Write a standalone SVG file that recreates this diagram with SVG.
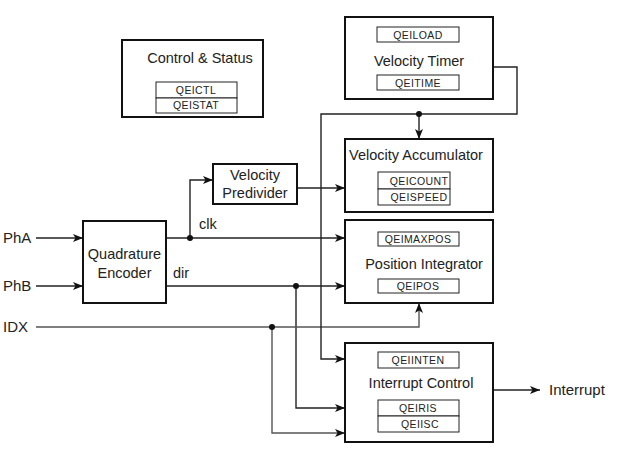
<svg xmlns="http://www.w3.org/2000/svg" width="618" height="454" viewBox="0 0 618 454">
<style>
.blk{fill:#fff;stroke:#111;stroke-width:2}
.reg{fill:#fff;stroke:#222;stroke-width:1}
.t{font-family:"Liberation Sans",Arial,sans-serif;font-size:14.5px;fill:#222}
.l{font-size:15px}
.c{text-anchor:middle}
.r{font-family:"Liberation Sans",Arial,sans-serif;font-size:10.5px;letter-spacing:0.4px;fill:#222;text-anchor:middle}
.w{fill:none;stroke:#222;stroke-width:1.4}
.g{fill:none;stroke:#555;stroke-width:1.4}
.dot{fill:#111}
</style>
<defs>
<marker id="ah" markerUnits="userSpaceOnUse" markerWidth="11" markerHeight="9" refX="10" refY="4.5" orient="auto">
<path d="M0,0.5 L10,4.5 L0,8.5 L2.5,4.5 z" fill="#111"/>
</marker>
</defs>
<rect width="618" height="454" fill="#fff"/>
<g id="connectors">
<path class="w" d="M36,238 H83" marker-end="url(#ah)"/>
<path class="w" d="M36,286 H83" marker-end="url(#ah)"/>
<path class="w" d="M166,238 H345" marker-end="url(#ah)"/>
<path class="w" d="M190,238 V180 H213" marker-end="url(#ah)"/>
<path class="w" d="M297,188 H345" marker-end="url(#ah)"/>
<path class="w" d="M166,286 H345" marker-end="url(#ah)"/>
<path class="w" d="M296,286 V408 H345" marker-end="url(#ah)"/>
<path class="g" d="M36,327 H419 V303" marker-end="url(#ah)"/>
<path class="g" d="M272,327 V433 H345" marker-end="url(#ah)"/>
<path class="w" d="M493,67 H517 V114 H321 V359 H345" marker-end="url(#ah)"/>
<path class="w" d="M419,114 V139" marker-end="url(#ah)"/>
<path class="w" d="M493,390 H540" marker-end="url(#ah)"/>
<circle class="dot" cx="190" cy="238" r="3"/>
<circle class="dot" cx="296" cy="286" r="3"/>
<circle class="dot" cx="272" cy="327" r="3"/>
<circle class="dot" cx="419" cy="114" r="3"/>
<text class="t" x="199" y="229">clk</text>
<text class="t" x="173" y="278">dir</text>
</g>
<g id="inputs">
<text class="t l" x="3" y="243">PhA</text>
<text class="t l" x="3" y="291">PhB</text>
<text class="t l" x="3" y="332">IDX</text>
<text class="t l" x="549" y="395">Interrupt</text>
</g>
<g id="control-status">
<rect class="blk" x="122" y="40" width="141" height="77"/>
<text class="t c" x="200" y="63">Control &amp; Status</text>
<rect class="reg" x="156" y="82" width="81" height="16"/>
<rect class="reg" x="156" y="98" width="81" height="15"/>
<text class="r" x="196" y="93.5">QEICTL</text>
<text class="r" x="196" y="109">QEISTAT</text>
</g>
<g id="velocity-timer">
<rect class="blk" x="345" y="17" width="148" height="82"/>
<rect class="reg" x="377" y="27" width="82" height="15"/>
<text class="r" x="418" y="38.5">QEILOAD</text>
<text class="t c" x="419" y="66">Velocity Timer</text>
<rect class="reg" x="377" y="75" width="82" height="15"/>
<text class="r" x="418" y="86.5">QEITIME</text>
</g>
<g id="velocity-accumulator">
<rect class="blk" x="345" y="139" width="148" height="73"/>
<text class="t c" x="416" y="160">Velocity Accumulator</text>
<rect class="reg" x="378" y="172" width="72" height="17"/>
<rect class="reg" x="378" y="189" width="72" height="16"/>
<text class="r" x="419" y="184.5">QEICOUNT</text>
<text class="r" x="419" y="201">QEISPEED</text>
</g>
<g id="position-integrator">
<rect class="blk" x="345" y="220" width="148" height="83"/>
<rect class="reg" x="378" y="232" width="81" height="14"/>
<text class="r" x="418" y="243">QEIMAXPOS</text>
<text class="t c" x="424" y="269">Position Integrator</text>
<rect class="reg" x="378" y="279" width="81" height="14"/>
<text class="r" x="418" y="290">QEIPOS</text>
</g>
<g id="interrupt-control">
<rect class="blk" x="345" y="343" width="148" height="99"/>
<rect class="reg" x="378" y="352" width="81" height="16"/>
<text class="r" x="418" y="364">QEIINTEN</text>
<text class="t c" x="421" y="388">Interrupt Control</text>
<rect class="reg" x="378" y="400" width="81" height="16"/>
<rect class="reg" x="378" y="416" width="81" height="16"/>
<text class="r" x="418" y="412">QEIRIS</text>
<text class="r" x="420" y="428">QEIISC</text>
</g>
<g id="quadrature-encoder">
<rect class="blk" x="83" y="221" width="83" height="82"/>
<text class="t c" x="124.5" y="259">Quadrature</text>
<text class="t c" x="124.5" y="278">Encoder</text>
</g>
<g id="velocity-predivider">
<rect class="blk" x="213" y="164" width="84" height="40"/>
<text class="t c" x="255" y="180">Velocity</text>
<text class="t c" x="255" y="198">Predivider</text>
</g>
</svg>
